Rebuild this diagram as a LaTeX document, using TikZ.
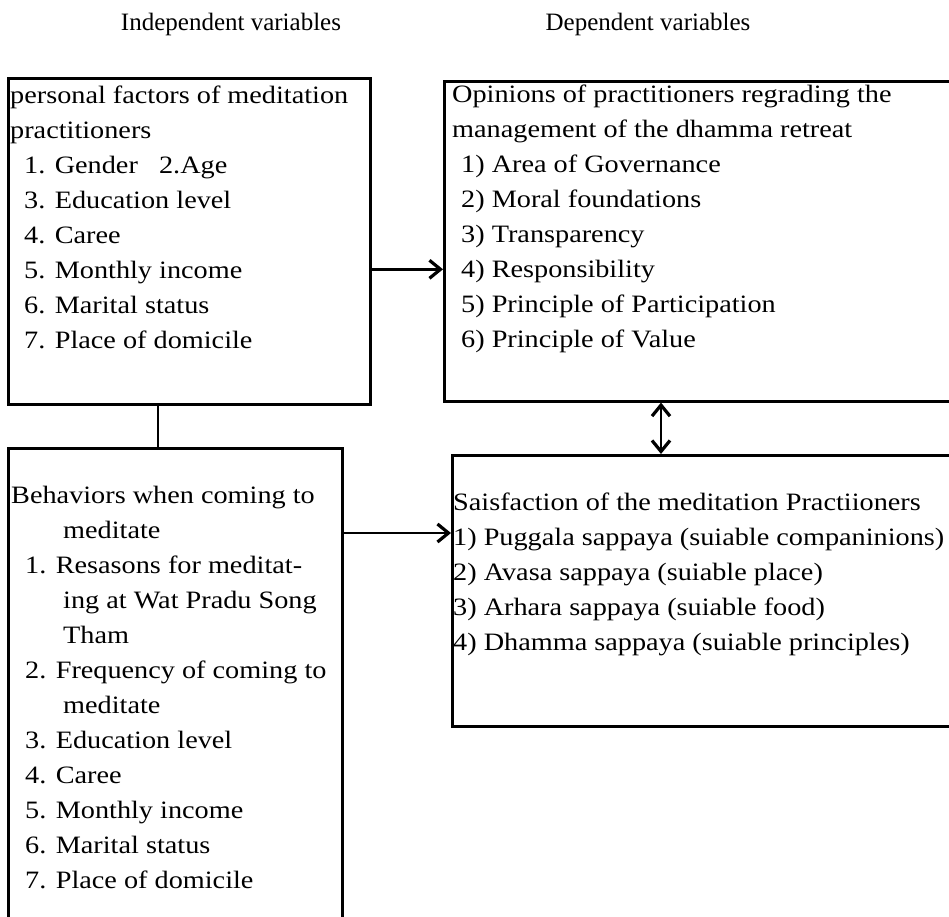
\documentclass[tikz,border=0pt]{standalone}
\usepackage{fontspec}
\setmainfont{Liberation Serif}
\newfontfamily\boxfont{Liberation Serif}[FakeStretch=1.13]
\usetikzlibrary{arrows.meta}
\newcommand{\itm}{\hspace*{14pt}}
\newcommand{\cont}{\hspace*{52pt}}

\begin{document}
\begin{tikzpicture}[x=1pt, y=-1pt,
  box/.style={draw, line width=2.6pt, anchor=north west, inner sep=0pt},
  txt/.style={anchor=north west, inner sep=0pt, align=left,
    font=\boxfont\fontsize{25pt}{35pt}\selectfont},
  head/.style={anchor=base, inner sep=0pt, font=\fontsize{25pt}{35pt}\selectfont},
  conn/.style={line width=2.6pt},
  tip/.tip={Straight Barb[length=11pt, width=18pt, line width=3.2pt]}]
  \useasboundingbox (0,0) rectangle (949,916);
  \clip (0,0) rectangle (949,916);
  % column titles
  \node[head] (indep) at (231,30) {Independent variables};
  \node[head] (dep) at (648,30) {Dependent variables};
  % boxes
  \node[box, minimum width=362pt, minimum height=326pt] (pers) at (7,77) {};
  \node[box, minimum width=512pt, minimum height=320pt] (opin) at (443,80) {};
  \node[box, minimum width=334pt, minimum height=490pt] (behav) at (7,447) {};
  \node[box, minimum width=504pt, minimum height=271pt] (satis) at (451,454) {};
  % box texts
  \node[txt] (perstxt) at (10,78.5) {\strut personal factors of meditation\\
    practitioners\\ \itm1. Gender\ \ \ 2.Age\\ \itm3. Education level\\
    \itm4. Caree\\ \itm5. Monthly income\\ \itm6. Marital status\\
    \itm7. Place of domicile};
  \node[txt] (opintxt) at (452,77.5) {\strut Opinions of practitioners regrading the\\
    management of the dhamma retreat\\ \hspace*{9pt}1) Area of Governance\\
    \hspace*{9pt}2) Moral foundations\\ \hspace*{9pt}3) Transparency\\
    \hspace*{9pt}4) Responsibility\\ \hspace*{9pt}5) Principle of Participation\\
    \hspace*{9pt}6) Principle of Value};
  \node[txt] (behavtxt) at (11,478.5) {\strut Behaviors when coming to\\
    \cont meditate\\ \itm1. Resasons for meditat-\\ \cont ing at Wat Pradu Song\\
    \cont Tham\\ \itm2. Frequency of coming to\\ \cont meditate\\
    \itm3. Education level\\ \itm4. Caree\\ \itm5. Monthly income\\
    \itm6. Marital status\\ \itm7. Place of domicile};
  \node[txt] (satistxt) at (453,485.5) {\strut Saisfaction of the meditation Practiioners\\
    1) Puggala sappaya (suiable companinions)\\ 2) Avasa sappaya (suiable place)\\
    3) Arhara sappaya (suiable food)\\ 4) Dhamma sappaya (suiable principles)};
  % connectors
  \draw[conn, -tip] ([yshift=-28pt]pers.east) -- ([yshift=-28pt]pers.east -| opin.west);
  \draw[conn] ([xshift=151pt]pers.south west) -- ([xshift=151pt]pers.south west |- behav.north);
  \draw[conn, -tip] ([yshift=-86pt]behav.north east) -- ([yshift=-86pt]behav.north east -| satis.west);
  \draw[conn, tip-tip] ([xshift=218pt]opin.south west) -- ([xshift=218pt]opin.south west |- satis.north);
\end{tikzpicture}
\end{document}
